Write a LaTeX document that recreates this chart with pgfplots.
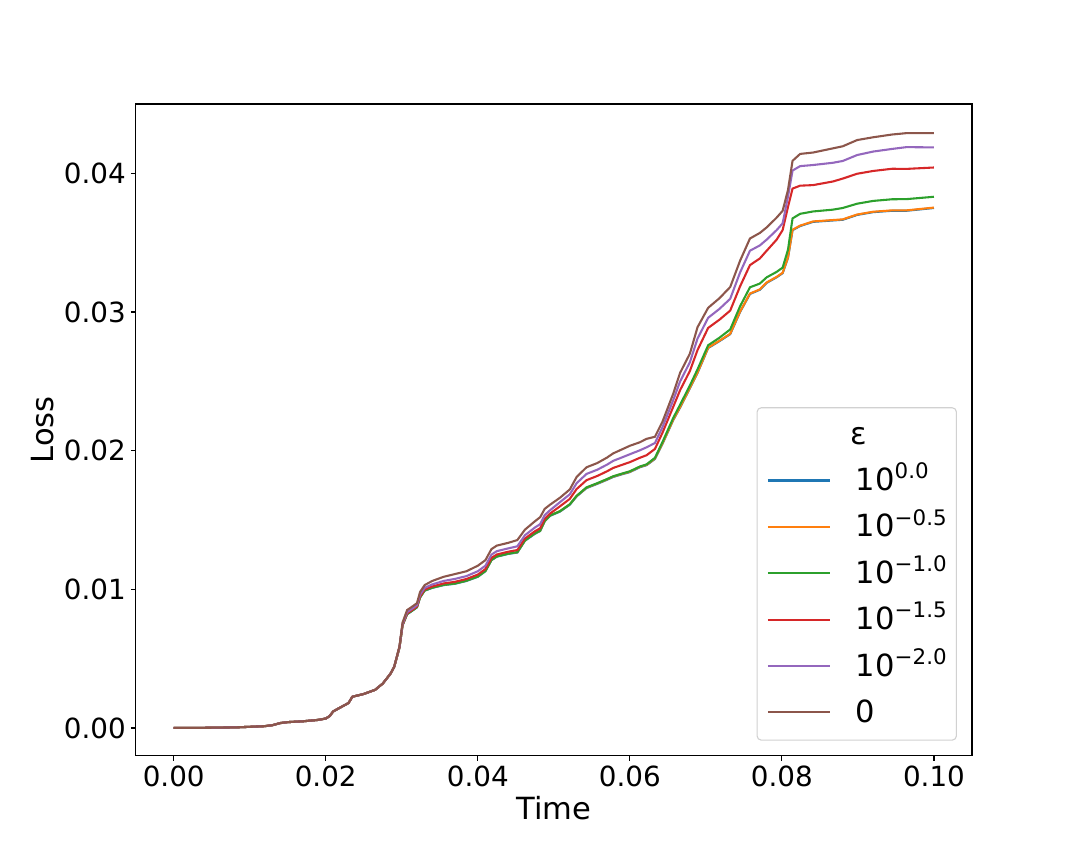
\documentclass[border=0pt]{standalone}
\usepackage{fontspec}
\setmainfont{DejaVu Sans}
\usepackage{pgfplots}
\usepackage{pgfplotstable}
\pgfplotsset{compat=1.18}
\definecolor{cA}{HTML}{1F77B4}
\definecolor{cB}{HTML}{FF7F0E}
\definecolor{cC}{HTML}{2CA02C}
\definecolor{cD}{HTML}{D62728}
\definecolor{cE}{HTML}{9467BD}
\definecolor{cF}{HTML}{8C564B}
\newcommand{\tenpow}[1]{10\raisebox{8.5pt}{\fontsize{15.4}{16}\selectfont #1}}
\pgfplotstableread{
t b o g r p br
0.0000 0.00000 0.00000 0.00000 0.00000 0.00000 0.00000
0.0040 0.00001 0.00001 0.00001 0.00001 0.00001 0.00001
0.0080 0.00004 0.00004 0.00004 0.00004 0.00004 0.00004
0.0100 0.00008 0.00008 0.00008 0.00008 0.00008 0.00008
0.0120 0.00013 0.00013 0.00013 0.00013 0.00013 0.00013
0.0130 0.00020 0.00020 0.00020 0.00020 0.00020 0.00020
0.0140 0.00035 0.00035 0.00035 0.00035 0.00035 0.00035
0.0150 0.00042 0.00042 0.00042 0.00042 0.00042 0.00042
0.0170 0.00048 0.00048 0.00048 0.00048 0.00048 0.00048
0.0190 0.00058 0.00058 0.00058 0.00058 0.00058 0.00058
0.0200 0.00068 0.00068 0.00068 0.00068 0.00068 0.00068
0.0205 0.00085 0.00085 0.00085 0.00085 0.00085 0.00085
0.0210 0.00120 0.00120 0.00120 0.00120 0.00120 0.00120
0.0220 0.00150 0.00150 0.00150 0.00150 0.00150 0.00150
0.0230 0.00180 0.00180 0.00180 0.00180 0.00180 0.00180
0.0235 0.00225 0.00225 0.00225 0.00225 0.00225 0.00225
0.0250 0.00245 0.00245 0.00245 0.00245 0.00245 0.00245
0.0265 0.00275 0.00275 0.00275 0.00275 0.00275 0.00275
0.0275 0.00320 0.00320 0.00320 0.00320 0.00320 0.00320
0.0285 0.00390 0.00390 0.00390 0.00390 0.00390 0.00390
0.0290 0.00440 0.00440 0.00440 0.00440 0.00440 0.00440
0.0297 0.00580 0.00580 0.00580 0.00582 0.00585 0.00590
0.0301 0.00740 0.00743 0.00741 0.00744 0.00750 0.00760
0.0307 0.00820 0.00823 0.00821 0.00826 0.00835 0.00850
0.0315 0.00850 0.00853 0.00851 0.00856 0.00865 0.00880
0.0320 0.00870 0.00873 0.00871 0.00876 0.00885 0.00900
0.0324 0.00940 0.00943 0.00941 0.00948 0.00960 0.00980
0.0330 0.00990 0.00993 0.00991 0.00998 0.01010 0.01030
0.0340 0.01010 0.01013 0.01012 0.01020 0.01035 0.01060
0.0355 0.01030 0.01033 0.01032 0.01042 0.01060 0.01090
0.0370 0.01040 0.01043 0.01042 0.01054 0.01075 0.01110
0.0385 0.01060 0.01063 0.01062 0.01074 0.01095 0.01130
0.0400 0.01090 0.01093 0.01092 0.01106 0.01130 0.01170
0.0410 0.01130 0.01133 0.01132 0.01146 0.01170 0.01210
0.0418 0.01210 0.01213 0.01212 0.01226 0.01250 0.01290
0.0425 0.01235 0.01238 0.01237 0.01251 0.01275 0.01315
0.0440 0.01255 0.01258 0.01257 0.01271 0.01295 0.01335
0.0452 0.01265 0.01268 0.01268 0.01283 0.01310 0.01355
0.0462 0.01350 0.01353 0.01352 0.01366 0.01390 0.01430
0.0475 0.01400 0.01403 0.01403 0.01418 0.01445 0.01490
0.0482 0.01420 0.01423 0.01423 0.01440 0.01470 0.01520
0.0488 0.01490 0.01493 0.01493 0.01508 0.01535 0.01580
0.0495 0.01530 0.01533 0.01532 0.01546 0.01570 0.01610
0.0508 0.01560 0.01563 0.01563 0.01598 0.01628 0.01660
0.0521 0.01610 0.01613 0.01613 0.01652 0.01685 0.01720
0.0530 0.01670 0.01673 0.01674 0.01723 0.01765 0.01810
0.0543 0.01730 0.01733 0.01735 0.01787 0.01832 0.01880
0.0557 0.01760 0.01763 0.01765 0.01817 0.01862 0.01910
0.0570 0.01790 0.01793 0.01795 0.01851 0.01899 0.01950
0.0578 0.01810 0.01813 0.01815 0.01875 0.01926 0.01980
0.0590 0.01830 0.01833 0.01835 0.01898 0.01952 0.02010
0.0600 0.01845 0.01848 0.01851 0.01917 0.01974 0.02035
0.0613 0.01880 0.01883 0.01885 0.01948 0.02002 0.02060
0.0622 0.01895 0.01898 0.01901 0.01967 0.02024 0.02085
0.0633 0.01940 0.01943 0.01948 0.02012 0.02055 0.02100
0.0643 0.02050 0.02053 0.02063 0.02130 0.02170 0.02210
0.0657 0.02220 0.02223 0.02235 0.02315 0.02363 0.02410
0.0666 0.02310 0.02313 0.02330 0.02435 0.02498 0.02560
0.0679 0.02450 0.02453 0.02470 0.02575 0.02638 0.02700
0.0689 0.02560 0.02563 0.02586 0.02725 0.02808 0.02890
0.0703 0.02740 0.02743 0.02760 0.02885 0.02958 0.03030
0.0718 0.02790 0.02793 0.02815 0.02945 0.03023 0.03100
0.0732 0.02840 0.02843 0.02874 0.03010 0.03095 0.03180
0.0745 0.03000 0.03003 0.03041 0.03185 0.03285 0.03370
0.0758 0.03130 0.03133 0.03178 0.03338 0.03442 0.03530
0.0771 0.03160 0.03163 0.03205 0.03386 0.03480 0.03570
0.0780 0.03210 0.03213 0.03250 0.03442 0.03522 0.03610
0.0793 0.03250 0.03253 0.03289 0.03521 0.03590 0.03680
0.0801 0.03280 0.03283 0.03320 0.03591 0.03640 0.03730
0.0808 0.03390 0.03393 0.03449 0.03757 0.03831 0.03880
0.0814 0.03590 0.03593 0.03675 0.03890 0.04020 0.04090
0.0824 0.03620 0.03623 0.03708 0.03911 0.04052 0.04140
0.0841 0.03650 0.03653 0.03725 0.03915 0.04060 0.04150
0.0867 0.03660 0.03663 0.03738 0.03941 0.04076 0.04180
0.0880 0.03665 0.03668 0.03750 0.03962 0.04089 0.04195
0.0899 0.03700 0.03703 0.03781 0.03997 0.04132 0.04240
0.0920 0.03720 0.03723 0.03801 0.04017 0.04157 0.04260
0.0945 0.03730 0.03733 0.03813 0.04033 0.04176 0.04280
0.0964 0.03730 0.03733 0.03814 0.04032 0.04189 0.04290
0.1000 0.03750 0.03753 0.03831 0.04042 0.04187 0.04290
}\lossdata
\begin{document}
\begin{tikzpicture}
\useasboundingbox (-97.7pt,-78.0pt) rectangle (679.9pt,544.08pt);
\begin{axis}[
  width=602.1pt, height=469.2pt, scale only axis,
  xmin=-0.005, xmax=0.105, ymin=-0.0020, ymax=0.0450,
  axis line style={line width=0.8pt, black},
  tick style={line width=0.8pt, black},
  tick align=outside, major tick length=3.5pt,
  xtick pos=bottom, ytick pos=left,
  xtick={0,0.02,0.04,0.06,0.08,0.1},
  xticklabels={0.00,0.02,0.04,0.06,0.08,0.10},
  ytick={0,0.01,0.02,0.03,0.04},
  yticklabels={0.00,0.01,0.02,0.03,0.04},
  scaled ticks=false,
  ticklabel style={font=\fontsize{20}{24}\selectfont},
  xticklabel style={inner sep=0pt, anchor=north, yshift=-3.5pt},
  yticklabel style={inner sep=0pt, anchor=east, xshift=-3.5pt},
  xlabel={Time}, ylabel={Loss},
  label style={font=\fontsize{22}{26.4}\selectfont},
  xlabel style={at={(axis description cs:0.5,-0.0797)}, anchor=center, inner sep=0pt},
  ylabel style={at={(axis description cs:-0.1114,0.5)}, anchor=center, inner sep=0pt},
  legend cell align=left,
  legend image code/.code={\draw[#1, line width=1.5pt] (0pt,0.5pt) -- (44.6pt,0.5pt);},
  legend style={at={(1,0)}, anchor=south east, xshift=-10.8pt, yshift=10.8pt,
    draw=black!18, line width=0.8pt, fill=white, fill opacity=0.8, text opacity=1,
    rounded corners=3pt, font=\fontsize{22}{26.4}\selectfont,
    inner xsep=7pt, inner ysep=10.2pt, row sep=14.9pt,
    nodes={inner sep=0pt, text height=16pt, text depth=2.5pt},
    /tikz/every odd column/.append style={column sep=18pt}},
]
\addlegendimage{empty legend}
\addlegendentry{\hspace{-4pt}ε}
\addplot[cA, line width=1.5pt] table[x=t, y=b] {\lossdata};
\addlegendentry{\tenpow{0.0}}
\addplot[cB, line width=1.5pt] table[x=t, y=o] {\lossdata};
\addlegendentry{\tenpow{−0.5}}
\addplot[cC, line width=1.5pt] table[x=t, y=g] {\lossdata};
\addlegendentry{\tenpow{−1.0}}
\addplot[cD, line width=1.5pt] table[x=t, y=r] {\lossdata};
\addlegendentry{\tenpow{−1.5}}
\addplot[cE, line width=1.5pt] table[x=t, y=p] {\lossdata};
\addlegendentry{\tenpow{−2.0}}
\addplot[cF, line width=1.5pt] table[x=t, y=br] {\lossdata};
\addlegendentry{0}
\end{axis}
\end{tikzpicture}
\end{document}
